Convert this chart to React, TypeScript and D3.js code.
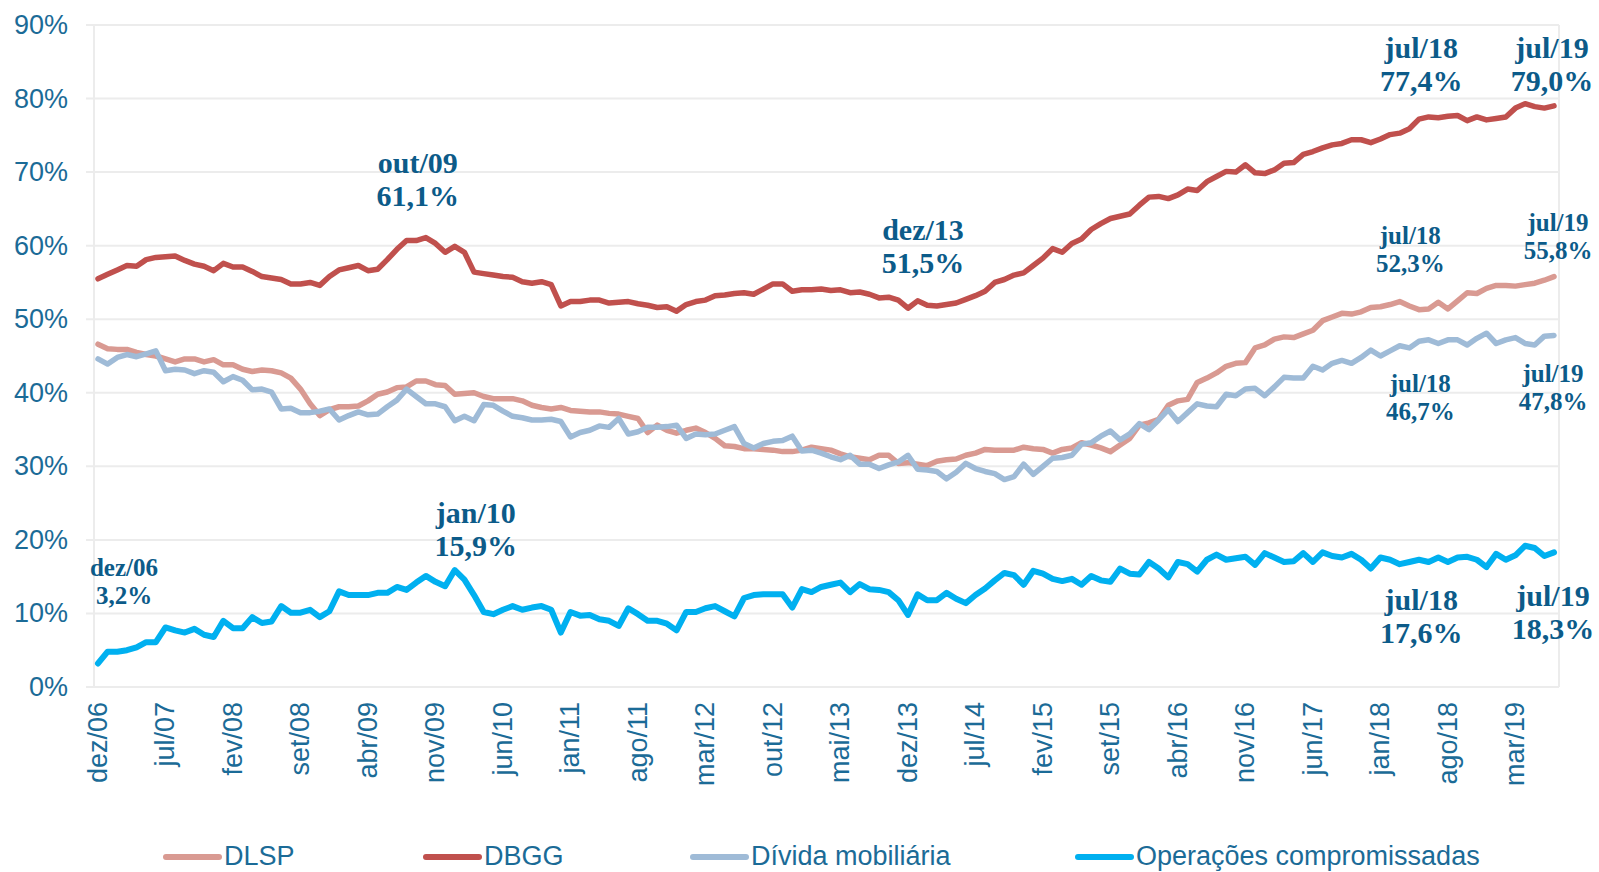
import React from 'react'
import * as d3 from 'd3'

// months dez/06 .. jul/19 (category axis)
const monthNames = ['jan', 'fev', 'mar', 'abr', 'mai', 'jun', 'jul', 'ago', 'set', 'out', 'nov', 'dez']
const months = d3.timeMonth
  .range(new Date(2006, 11, 1), new Date(2019, 7, 1))
  .map(d => monthNames[d.getMonth()] + '/' + String(d.getFullYear()).slice(2))

// % do PIB
const dlsp = [
  46.6, 46.0, 45.9, 45.9, 45.5, 45.2, 45.0, 44.6, 44.2, 44.6,
  44.6, 44.2, 44.5, 43.8, 43.8, 43.2, 42.9, 43.1, 43.0, 42.7,
  42.0, 40.5, 38.5, 36.9, 37.7, 38.1, 38.1, 38.2, 38.9, 39.8,
  40.1, 40.7, 40.8, 41.6, 41.6, 41.1, 41.0, 39.8, 39.9, 40.0,
  39.5, 39.2, 39.2, 39.2, 38.9, 38.3, 38.0, 37.8, 38.0, 37.6,
  37.5, 37.4, 37.4, 37.2, 37.1, 36.8, 36.5, 34.6, 35.6, 34.9,
  34.5, 34.9, 35.2, 34.6, 33.8, 32.8, 32.7, 32.4, 32.4, 32.3,
  32.2, 32.0, 32.0, 32.2, 32.6, 32.4, 32.2, 31.7, 31.3, 31.1,
  30.9, 31.5, 31.5, 30.4, 30.5, 30.3, 30.1, 30.7, 30.9, 31.0,
  31.5, 31.8, 32.3, 32.2, 32.2, 32.2, 32.6, 32.4, 32.3, 31.8,
  32.3, 32.5, 33.2, 32.9, 32.5, 32.0, 32.9, 33.8, 35.6, 35.9,
  36.4, 38.3, 38.9, 39.1, 41.4, 42.0, 42.7, 43.6, 44.0, 44.1,
  46.1, 46.5, 47.3, 47.6, 47.5, 48.0, 48.5, 49.8, 50.3, 50.8,
  50.7, 51.0, 51.6, 51.7, 52.0, 52.4, 51.8, 51.3, 51.4, 52.3,
  51.4, 52.5, 53.6, 53.5, 54.2, 54.6, 54.6, 54.5, 54.7, 54.9, 55.3, 55.8,
]

const dbgg = [
  55.5, 56.1, 56.7, 57.3, 57.2, 58.1, 58.4, 58.5, 58.6, 58.0,
  57.5, 57.2, 56.6, 57.6, 57.1, 57.1, 56.5, 55.8, 55.6, 55.4,
  54.8, 54.8, 55.0, 54.6, 55.8, 56.7, 57.0, 57.3, 56.6, 56.8,
  58.1, 59.5, 60.7, 60.7, 61.1, 60.3, 59.1, 59.9, 59.1, 56.4,
  56.2, 56.0, 55.8, 55.7, 55.1, 54.9, 55.1, 54.7, 51.8, 52.4,
  52.4, 52.6, 52.6, 52.2, 52.3, 52.4, 52.1, 51.9, 51.6, 51.7,
  51.1, 52.0, 52.4, 52.6, 53.2, 53.3, 53.5, 53.6, 53.4, 54.1,
  54.8, 54.8, 53.8, 54.0, 54.0, 54.1, 53.9, 54.0, 53.6, 53.7,
  53.4, 52.9, 53.0, 52.6, 51.5, 52.5, 51.9, 51.8, 52.0, 52.2,
  52.7, 53.2, 53.8, 55.0, 55.4, 56.0, 56.3, 57.3, 58.3, 59.6,
  59.1, 60.3, 60.9, 62.2, 63.0, 63.7, 64.0, 64.3, 65.5, 66.6,
  66.7, 66.4, 66.9, 67.7, 67.5, 68.7, 69.4, 70.1, 70.0, 71.0,
  69.9, 69.8, 70.3, 71.2, 71.3, 72.4, 72.8, 73.3, 73.7, 73.9,
  74.4, 74.4, 74.0, 74.5, 75.1, 75.3, 75.9, 77.2, 77.5, 77.4,
  77.6, 77.7, 77.0, 77.5, 77.1, 77.3, 77.5, 78.7, 79.3, 78.9, 78.7, 79.0,
]

const mobiliaria = [
  44.6, 43.9, 44.8, 45.2, 44.9, 45.3, 45.7, 43.0, 43.2, 43.1,
  42.6, 43.0, 42.8, 41.5, 42.2, 41.7, 40.4, 40.5, 40.1, 37.8,
  37.9, 37.3, 37.3, 37.5, 37.8, 36.3, 36.9, 37.4, 37.0, 37.1,
  38.1, 39.0, 40.5, 39.5, 38.5, 38.5, 38.1, 36.2, 36.8, 36.2,
  38.4, 38.3, 37.5, 36.8, 36.6, 36.3, 36.3, 36.4, 36.1, 34.0,
  34.6, 34.9, 35.5, 35.3, 36.5, 34.4, 34.7, 35.3, 35.3, 35.4,
  35.6, 33.8, 34.4, 34.3, 34.4, 34.9, 35.4, 33.1, 32.5, 33.1,
  33.4, 33.5, 34.1, 32.1, 32.2, 31.8, 31.3, 30.9, 31.5, 30.3,
  30.3, 29.7, 30.2, 30.6, 31.5, 29.6, 29.5, 29.3, 28.3, 29.2,
  30.4, 29.7, 29.3, 29.0, 28.2, 28.6, 30.3, 28.9, 30.0, 31.1,
  31.2, 31.5, 33.0, 33.2, 34.1, 34.8, 33.6, 34.4, 35.8, 35.0,
  36.3, 37.7, 36.1, 37.3, 38.5, 38.2, 38.1, 39.8, 39.6, 40.5,
  40.6, 39.6, 40.8, 42.1, 42.0, 42.0, 43.6, 43.1, 44.0, 44.4,
  44.0, 44.8, 45.8, 45.0, 45.7, 46.4, 46.1, 47.0, 47.2, 46.7,
  47.2, 47.2, 46.5, 47.4, 48.1, 46.7, 47.2, 47.5, 46.7, 46.5, 47.7, 47.8,
]

const compromissadas = [
  3.2, 4.8, 4.8, 5.0, 5.4, 6.1, 6.1, 8.1, 7.7, 7.4,
  7.9, 7.1, 6.8, 9.0, 8.0, 8.0, 9.5, 8.7, 8.9, 11.0,
  10.1, 10.1, 10.5, 9.5, 10.3, 13.0, 12.5, 12.5, 12.5, 12.8,
  12.8, 13.6, 13.2, 14.2, 15.1, 14.3, 13.7, 15.9, 14.6, 12.5,
  10.2, 9.9, 10.5, 11.0, 10.5, 10.8, 11.0, 10.5, 7.4, 10.2,
  9.7, 9.8, 9.2, 9.0, 8.3, 10.7, 9.9, 9.0, 9.0, 8.6,
  7.7, 10.2, 10.2, 10.7, 11.0, 10.3, 9.6, 12.1, 12.5, 12.6,
  12.6, 12.6, 10.8, 13.3, 12.9, 13.6, 13.9, 14.2, 12.9, 14.0,
  13.3, 13.2, 12.9, 11.8, 9.8, 12.6, 11.8, 11.8, 12.8, 12.0,
  11.4, 12.5, 13.4, 14.5, 15.5, 15.2, 13.9, 15.8, 15.4, 14.7,
  14.4, 14.7, 13.9, 15.1, 14.5, 14.3, 16.1, 15.4, 15.3, 17.0,
  16.1, 14.9, 17.0, 16.7, 15.7, 17.3, 18.0, 17.3, 17.5, 17.7,
  16.6, 18.2, 17.6, 17.0, 17.1, 18.2, 17.0, 18.3, 17.8, 17.6,
  18.1, 17.3, 16.1, 17.6, 17.3, 16.7, 17.0, 17.3, 17.0, 17.6,
  17.0, 17.6, 17.7, 17.3, 16.3, 18.1, 17.3, 17.9, 19.2, 18.9, 17.8, 18.3,
]

const yTicks = [0, 10, 20, 30, 40, 50, 60, 70, 80, 90]

const series = [
  { name: 'DLSP', values: dlsp, color: '#d99a92', width: 5.5 },
  { name: 'DBGG', values: dbgg, color: '#c0504d', width: 5.5 },
  { name: 'Dívida mobiliária', values: mobiliaria, color: '#9fbbd7', width: 5.5 },
  { name: 'Operações compromissadas', values: compromissadas, color: '#00b0f0', width: 6 },
]

// highlighted points: month, value, label text
const notes = [
  { month: 'dez/06', value: 3.2, label: '3,2%', big: false },
  { month: 'out/09', value: 61.1, label: '61,1%', big: true },
  { month: 'jan/10', value: 15.9, label: '15,9%', big: true },
  { month: 'dez/13', value: 51.5, label: '51,5%', big: true },
  { month: 'jul/18', value: 77.4, label: '77,4%', big: true },
  { month: 'jul/19', value: 79.0, label: '79,0%', big: true },
  { month: 'jul/18', value: 52.3, label: '52,3%', big: false },
  { month: 'jul/19', value: 55.8, label: '55,8%', big: false },
  { month: 'jul/18', value: 46.7, label: '46,7%', big: false },
  { month: 'jul/19', value: 47.8, label: '47,8%', big: false },
  { month: 'jul/18', value: 17.6, label: '17,6%', big: true },
  { month: 'jul/19', value: 18.3, label: '18,3%', big: true },
]
// label offsets from the point (layout only)
const noteOffsets = [
  [26, -96], [-8, -75], [21, -58], [15, -79], [-17, -70], [-2, -58],
  [-28, -67], [4, -54], [-18, 40], [-1, 38], [-17, 42], [-1, 43],
]

const W = 1599
const H = 872
const plot = { left: 94, right: 1559, top: 25, bottom: 687 }

const axisColor = '#1b6b97'
const noteColor = '#0c5b89'
const gridColor = '#ececec'
const sans = '"Liberation Sans", Arial, sans-serif'
const serif = '"Liberation Serif", "Times New Roman", serif'

export default function App() {
  const x = d3.scalePoint<string>().domain(months).range([98, 1554])
  const y = d3.scaleLinear().domain([0, 90]).range([plot.bottom, plot.top])

  const line = d3
    .line<number>()
    .x((_, i) => x(months[i]) as number)
    .y(d => y(d))

  const tickMonths = months.filter((_, i) => i % 7 === 0)

  const legendX = [166, 426, 693, 1078]

  return (
    <svg
      width={W}
      height={H}
      style={{ position: 'absolute', left: 0, top: 0, display: 'block', background: '#fff' }}
    >
      {/* grid */}
      {yTicks.map(t => (
        <line key={'g' + t} x1={86} x2={plot.right} y1={y(t)} y2={y(t)} stroke={gridColor} strokeWidth={2} />
      ))}
      <line x1={plot.left} x2={plot.left} y1={plot.top} y2={plot.bottom} stroke={gridColor} strokeWidth={2} />
      <line x1={plot.right} x2={plot.right} y1={plot.top} y2={plot.bottom} stroke={gridColor} strokeWidth={2} />

      {/* y labels */}
      {yTicks.map(t => (
        <text
          key={'y' + t}
          x={68}
          y={y(t)}
          textAnchor="end"
          dominantBaseline="central"
          fontFamily={sans}
          fontSize={27}
          fill={axisColor}
        >
          {t}%
        </text>
      ))}

      {/* x labels */}
      {tickMonths.map(m => (
        <text
          key={'x' + m}
          transform={`translate(${x(m)},702) rotate(-90)`}
          textAnchor="end"
          dominantBaseline="central"
          fontFamily={sans}
          fontSize={27}
          fill={axisColor}
        >
          {m}
        </text>
      ))}

      {/* series */}
      {series.map(s => (
        <path
          key={s.name}
          d={line(s.values) as string}
          fill="none"
          stroke={s.color}
          strokeWidth={s.width}
          strokeLinejoin="round"
          strokeLinecap="round"
        />
      ))}

      {/* annotations */}
      {notes.map((n, i) => {
        const px = (x(n.month) as number) + noteOffsets[i][0]
        const py = y(n.value) + noteOffsets[i][1]
        const fs = n.big ? 30 : 25
        const gap = n.big ? 33 : 28
        return (
          <g key={'n' + i} fontFamily={serif} fontWeight="bold" fontSize={fs} fill={noteColor} textAnchor="middle">
            <text x={px} y={py} dominantBaseline="central">{n.month}</text>
            <text x={px} y={py + gap} dominantBaseline="central">{n.label}</text>
          </g>
        )
      })}

      {/* legend */}
      {series.map((s, i) => (
        <g key={'l' + s.name}>
          <line x1={legendX[i]} x2={legendX[i] + 53} y1={857} y2={857} stroke={s.color} strokeWidth={6} strokeLinecap="round" />
          <text x={legendX[i] + 58} y={865} fontFamily={sans} fontSize={27} fill={axisColor}>
            {s.name}
          </text>
        </g>
      ))}
    </svg>
  )
}
